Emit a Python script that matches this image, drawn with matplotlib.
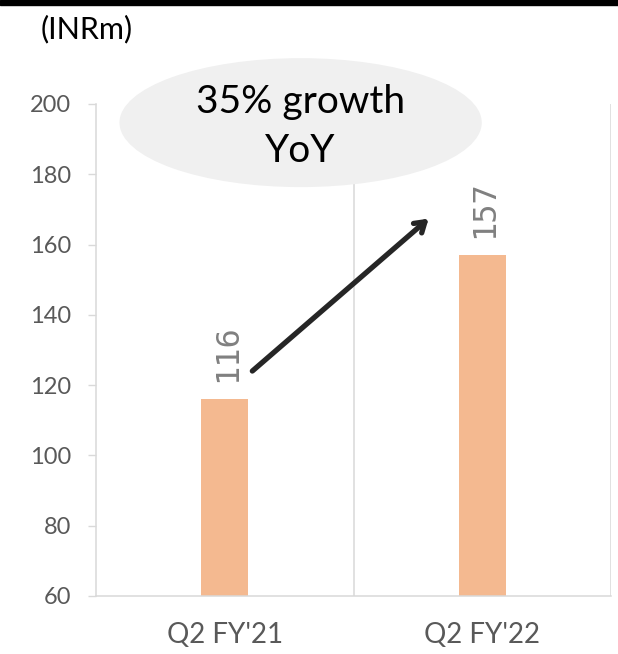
import matplotlib
matplotlib.use("Agg")
import matplotlib.pyplot as plt
from matplotlib.patches import Ellipse, Rectangle

# data
quarters = ["Q2 FY'21", "Q2 FY'22"]
revenue = [116, 157]
yticks = [60, 80, 100, 120, 140, 160, 180, 200]
growth_text = ["35% growth", "YoY"]

plt.rcParams['font.family'] = ['Lato', 'DejaVu Sans']

fig = plt.figure(figsize=(6.18, 6.54), dpi=100)
ax = fig.add_axes([96/618, 58/654, 515/618, 492/654])

x = list(range(len(quarters)))
ax.bar(x, revenue, width=0.182, color='#F4B990', zorder=2)

ax.set_xlim(-0.5, 1.5)
ax.set_ylim(60, 200)
ax.set_yticks(yticks)
ax.set_xticks(x)
ax.set_xticklabels(quarters)

# vertical separators between categories
for b in [0.5, 1.5]:
    ax.axvline(b, color='#d9d9d9', lw=1.1, zorder=1)

for s in ['top', 'right']:
    ax.spines[s].set_visible(False)
for s in ['left', 'bottom']:
    ax.spines[s].set_color('#d9d9d9')
    ax.spines[s].set_linewidth(1.1)

ax.tick_params(axis='y', length=6, width=1, color='#d9d9d9', pad=12,
               labelsize=17, labelcolor='#595959')
ax.tick_params(axis='x', length=0, pad=19, labelsize=20, labelcolor='#595959')

# value labels
for xi, v in zip(x, revenue):
    ax.text(xi + 0.01, v + 4.8, str(v), rotation=90, ha='center', va='bottom',
            fontsize=23, color='#808080', family='DejaVu Sans Mono')

# growth bubble
ell = Ellipse((0.2946, 194.7), 1.407, 36.7, facecolor='#f0f0f0', edgecolor='none',
              zorder=3, clip_on=False)
ax.add_patch(ell)
ax.text(0.2946, 197.4, growth_text[0], ha='center', va='baseline', fontsize=28,
        color='black', zorder=4)
ax.text(0.2946, 183.5, growth_text[1], ha='center', va='baseline', fontsize=28,
        color='black', zorder=4)

# growth arrow
ax.annotate('', xy=(0.800, 167.9), xytext=(0.099, 123.5),
            arrowprops=dict(arrowstyle='->, head_length=0.7, head_width=0.45',
                            color='#262626', lw=3.8), zorder=5)

fig.text(41/618, 1 - 38/654, '(INRm)', fontsize=22, color='black', va='baseline')
fig.add_artist(Rectangle((0, 1 - 5/654), 1, 5/654, transform=fig.transFigure,
                         color='black'))

fig.savefig('out.png', dpi=100)
